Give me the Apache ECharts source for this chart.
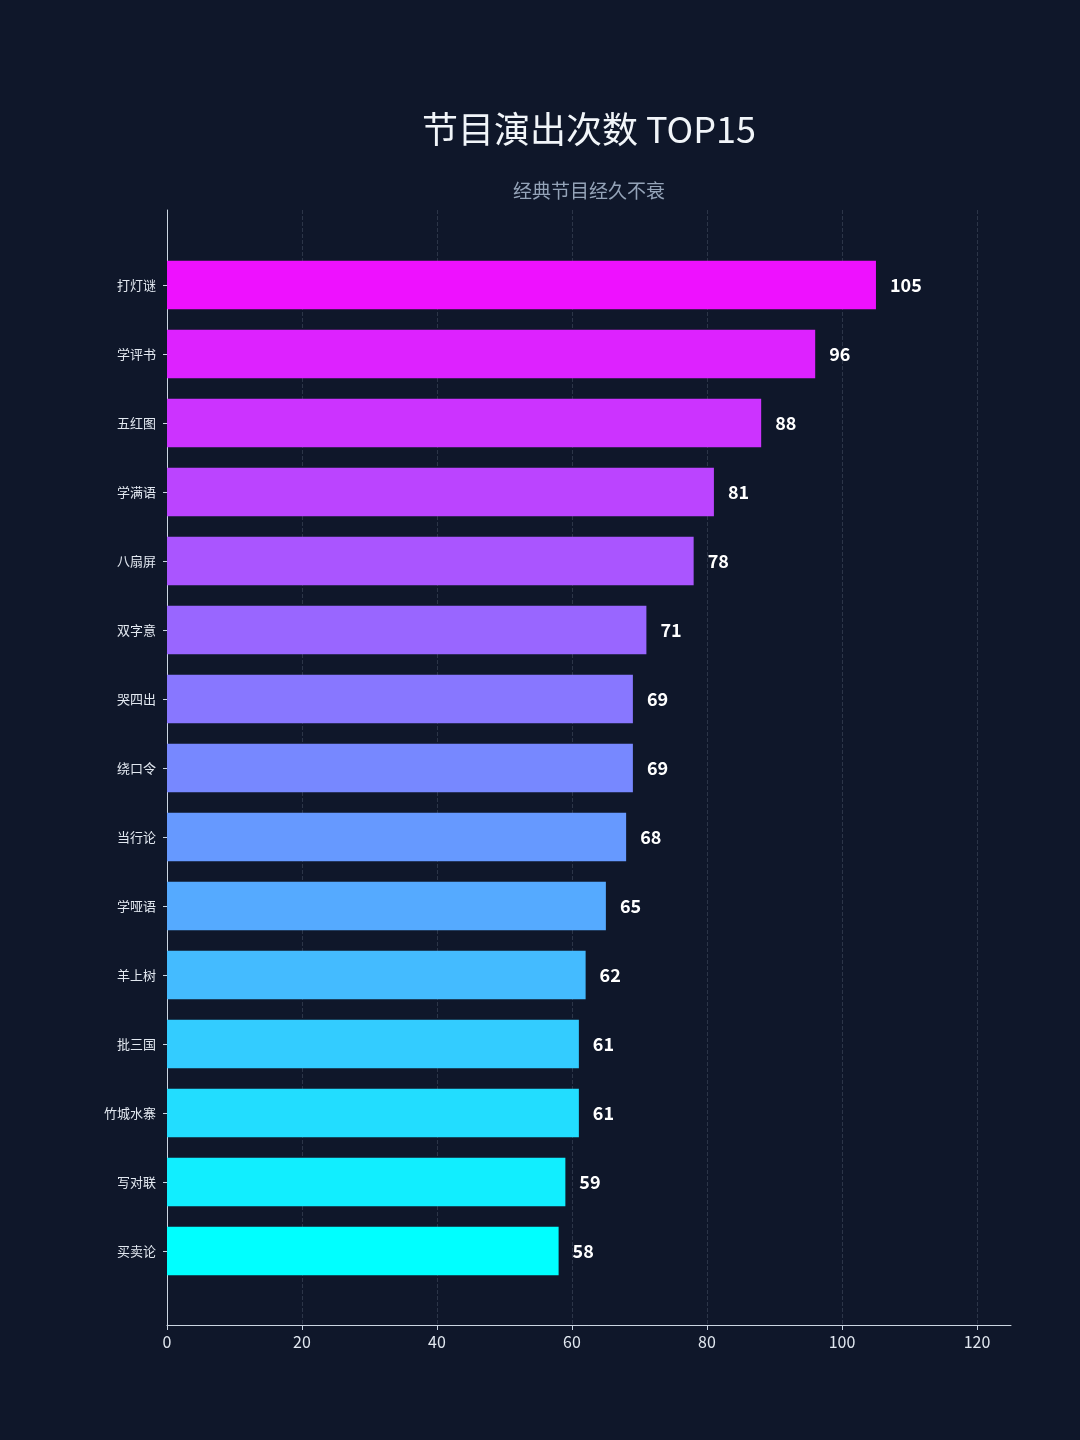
<!DOCTYPE html>
<html>
<head>
<meta charset="utf-8">
<script src="https://cdn.jsdelivr.net/npm/echarts@6/dist/echarts.min.js"></script>
<style>
  html, body { margin: 0; padding: 0; background: #0f172a; }
  #chart { width: 1080px; height: 1440px; }
</style>
</head>
<body>
<div id="chart"></div>
<script>
// 数据
const programs = ['打灯谜', '学评书', '五红图', '学满语', '八扇屏', '双字意', '哭四出', '绕口令',
                  '当行论', '学哑语', '羊上树', '批三国', '竹城水寨', '写对联', '买卖论'];
const counts   = [105, 96, 88, 81, 78, 71, 69, 69, 68, 65, 62, 61, 61, 59, 58];
const xTicks   = [0, 20, 40, 60, 80, 100, 120];

// 颜色：从品红到青色
const barColors = ['#ee11ff', '#dd22ff', '#cc33ff', '#bb44ff', '#aa55ff', '#9966ff', '#8877ff', '#7788ff',
                   '#6699ff', '#55aaff', '#44bbff', '#33ccff', '#22ddff', '#11eeff', '#00ffff'];

const FONT = '"Noto Sans CJK SC", "Noto Sans", sans-serif';
const AXIS = '#cbd5e1';
const chart = echarts.init(document.getElementById('chart'));

chart.setOption({
    backgroundColor: '#0f172a',
    textStyle: { fontFamily: FONT },
    title: {
        text: '节目演出次数 TOP15',
        subtext: '经典节目经久不衰',
        left: 584,
        top: 106,
        textAlign: 'center',
        itemGap: 34,
        textStyle: { color: '#f1f5f9', fontSize: 36, fontWeight: 'normal', fontFamily: FONT },
        subtextStyle: { color: '#94a3b8', fontSize: 19, fontFamily: FONT }
    },
    grid: [
        // 坐标轴线（到 125）
        { left: 167, right: 69, top: 210, bottom: 115 },
        // 刻度与网格（到 120）
        { left: 167, right: 103, top: 210, bottom: 115 },
        // 柱子
        { left: 167, right: 69, top: 250.5, bottom: 154.5 }
    ],
    xAxis: [
        {
            gridIndex: 0, type: 'value', min: 0, max: 125,
            axisLine: { show: true, lineStyle: { color: AXIS, width: 1 } },
            axisTick: { show: false }, axisLabel: { show: false }, splitLine: { show: false }
        },
        {
            gridIndex: 1, type: 'value', min: xTicks[0], max: xTicks[xTicks.length - 1], interval: 20,
            axisLine: { show: false },
            axisTick: { show: true, length: 5, lineStyle: { color: AXIS } },
            axisLabel: { color: '#e2e8f0', fontSize: 16, margin: 9, fontFamily: FONT },
            splitLine: { show: true, lineStyle: { color: 'rgba(148,163,184,0.22)', type: 'dashed' } }
        },
        {
            gridIndex: 2, type: 'value', min: 0, max: 125, show: false,
            splitLine: { show: false }
        }
    ],
    yAxis: [
        {
            gridIndex: 0, type: 'value', min: 0, max: 1,
            axisLine: { show: true, lineStyle: { color: AXIS, width: 1 } },
            axisTick: { show: false }, axisLabel: { show: false }, splitLine: { show: false }
        },
        {
            gridIndex: 1, type: 'value', min: 0, max: 1, show: false,
            splitLine: { show: false }
        },
        {
            gridIndex: 2, type: 'category', inverse: true, data: programs,
            axisLine: { show: false },
            axisTick: { show: true, alignWithLabel: true, length: 4, lineStyle: { color: AXIS } },
            axisLabel: { color: '#e2e8f0', fontSize: 13, margin: 11, fontFamily: FONT },
            splitLine: { show: false }
        }
    ],
    series: [{
        type: 'bar',
        xAxisIndex: 2,
        yAxisIndex: 2,
        barWidth: '70%',
        data: counts.map((v, i) => ({ value: v, itemStyle: { color: barColors[i] } })),
        label: {
            show: true, position: 'right', distance: 14,
            color: '#ffffff', fontSize: 18, fontWeight: 'bold', fontFamily: FONT
        }
    }]
});

window.addEventListener('resize', () => chart.resize());
</script>
</body>
</html>
